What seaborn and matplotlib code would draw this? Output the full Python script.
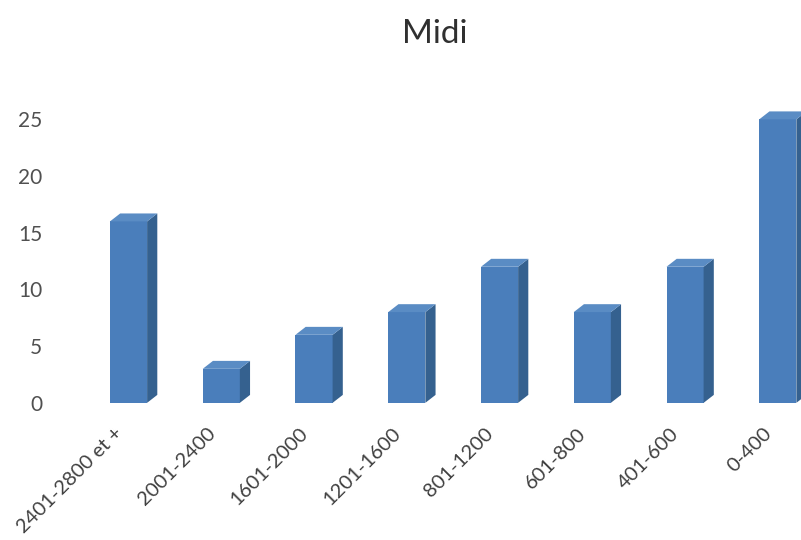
import matplotlib
matplotlib.use("Agg")
import matplotlib.pyplot as plt
from matplotlib.patches import Polygon
from matplotlib.transforms import ScaledTranslation
import seaborn as sns

# Values
categories = ["2401-2800 et +", "2001-2400", "1601-2000", "1201-1600",
              "801-1200", "601-800", "401-600", "0-400"]
values = [16, 3, 6, 8, 12, 8, 12, 25]
y_ticks = [0, 5, 10, 15, 20, 25]

FRONT = "#4A7EBB"
SIDE = "#35618F"
TOP = "#5A8CC4"


def add_depth(ax, dx=0.11, dy=0.7):
    # fake Excel-style 3D: side and top faces built from each bar's geometry
    for p in list(ax.patches):
        x0 = p.get_x()
        x1 = x0 + p.get_width()
        h = p.get_height()
        side = Polygon([(x1, 0), (x1 + dx, dy), (x1 + dx, h + dy), (x1, h)],
                       closed=True, facecolor=SIDE, edgecolor="none")
        top = Polygon([(x0, h), (x0 + dx, h + dy), (x1 + dx, h + dy), (x1, h)],
                      closed=True, facecolor=TOP, edgecolor="none")
        ax.add_patch(side)
        ax.add_patch(top)


def main():
    sns.set_theme(style="white")
    plt.rcParams["font.family"] = ["Lato", "DejaVu Sans"]

    fig = plt.figure(figsize=(8.01, 5.4), dpi=100)
    ax = fig.add_axes([0.091, 0.254, 0.909, 0.546])

    sns.barplot(x=categories, y=values, color=FRONT, saturation=1,
                width=0.4, edgecolor="none", linewidth=0, ax=ax)
    add_depth(ax)

    ax.set_xlim(-0.6, 7.25)
    ax.set_ylim(0, 26)
    ax.set_yticks(y_ticks)
    ax.set_xlabel("")
    ax.set_ylabel("")
    sns.despine(ax=ax, left=True, bottom=True)

    ax.tick_params(axis="y", length=0, pad=22, labelsize=15, labelcolor="#505050")
    ax.tick_params(axis="x", length=0, pad=20, labelsize=14.5, labelcolor="#404040")
    shift = ScaledTranslation(-9 / 100, 0, fig.dpi_scale_trans)
    for lab in ax.get_xticklabels():
        lab.set_rotation(45)
        lab.set_ha("right")
        lab.set_va("center")
        lab.set_rotation_mode("anchor")
        lab.set_transform(lab.get_transform() + shift)

    fig.text(0.543, 0.937, "Midi", ha="center", va="center",
             fontsize=24, color="#303030")

    fig.savefig("out.png", dpi=100)


if __name__ == "__main__":
    main()
